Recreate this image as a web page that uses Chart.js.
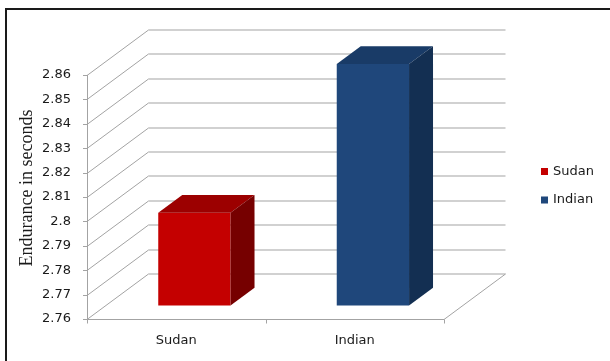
<!DOCTYPE html>
<html>
<head>
<meta charset="utf-8">
<script src="https://cdn.jsdelivr.net/npm/chart.js@4.4.1/dist/chart.umd.min.js"></script>
<style>
  html, body { margin: 0; padding: 0; background: #ffffff; }
  #wrap { position: relative; width: 610px; height: 361px; overflow: hidden; }
  #frame { position: absolute; left: 5px; top: 8px; width: 700px; height: 400px;
           border-top: 2px solid #1a1a1a; border-left: 2px solid #1a1a1a; pointer-events: none; }
  canvas { position: absolute; left: 0; top: 0; }
</style>
</head>
<body>
<div id="wrap">
  <canvas id="c" width="610" height="361"></canvas>
  <div id="frame"></div>
</div>
<script>
// ---- data ----
const categories = ['Sudan', 'Indian'];
const enduranceValues = [2.798, 2.859];
const yTickValues = [2.76, 2.77, 2.78, 2.79, 2.8, 2.81, 2.82, 2.83, 2.84, 2.85, 2.86];
const yAxisTitle = 'Endurance in seconds';

// ---- style ----
const frontColors = ['#c40000', '#1f477b'];
const topColors   = ['#9c0000', '#193b67'];
const sideColors  = ['#760000', '#132f52'];
const GRID = '#a3a3a3';
const TEXT = '#1a1a1a';
const DX = 61.5, DY = -45.5;      // full depth offset of the 3D floor
const F0 = 0.295, F1 = 0.685;     // bar front/back depth fractions

function line(ctx, x1, y1, x2, y2) {
  ctx.beginPath(); ctx.moveTo(x1, y1); ctx.lineTo(x2, y2); ctx.stroke();
}

const depthPlugin = {
  id: 'depth3d',
  beforeDatasetsDraw(chart) {
    const { ctx, chartArea: a, scales: { x, y } } = chart;
    ctx.save();
    ctx.strokeStyle = GRID;
    ctx.lineWidth = 1;
    y.ticks.forEach(t => {
      const py = Math.round(y.getPixelForValue(t.value)) + 0.5;
      line(ctx, a.left, py, a.left + DX, py + DY);
      line(ctx, a.left + DX, py + DY, a.right + DX, py + DY);
      line(ctx, a.left - 4, py, a.left, py);
    });
    const L = Math.round(a.left) + 0.5, B = Math.round(a.bottom) + 0.5;
    line(ctx, L, a.top, L, B);
    line(ctx, L, B, a.right, B);
    line(ctx, a.right, B, a.right + DX, B + DY);
    const n = x.ticks.length;
    for (let i = 0; i <= n; i++) {
      const px = Math.round(a.left + (a.right - a.left) * i / n) + 0.5;
      line(ctx, px, B, px, B + 4);
    }
    ctx.restore();
    ctx.save();
    ctx.translate(DX * F0, DY * F0);
  },
  afterDatasetsDraw(chart) {
    const { ctx } = chart;
    const bx = DX * (F1 - F0), by = DY * (F1 - F0);
    chart.getDatasetMeta(0).data.forEach((el, i) => {
      const p = el.getProps(['x', 'y', 'base', 'width'], true);
      const Lx = p.x - p.width / 2, Rx = p.x + p.width / 2, T = p.y, Bt = p.base;
      ctx.fillStyle = topColors[i];
      ctx.beginPath();
      ctx.moveTo(Lx, T); ctx.lineTo(Rx, T); ctx.lineTo(Rx + bx, T + by); ctx.lineTo(Lx + bx, T + by);
      ctx.closePath(); ctx.fill();
      ctx.fillStyle = sideColors[i];
      ctx.beginPath();
      ctx.moveTo(Rx, T); ctx.lineTo(Rx + bx, T + by); ctx.lineTo(Rx + bx, Bt + by); ctx.lineTo(Rx, Bt);
      ctx.closePath(); ctx.fill();
    });
    ctx.restore();
  },
  afterDraw(chart) {
    const { ctx } = chart;
    ctx.save();
    // legend
    ctx.font = '13px "DejaVu Sans"';
    ctx.textBaseline = 'middle';
    ctx.textAlign = 'left';
    categories.forEach((c, i) => {
      const cy = 171.5 + i * 28.5;
      ctx.fillStyle = frontColors[i];
      ctx.fillRect(541, cy - 3.5, 7, 7);
      ctx.fillStyle = TEXT;
      ctx.fillText(c, 553, cy);
    });
    // y axis title
    ctx.translate(27, 188);
    ctx.rotate(-Math.PI / 2);
    ctx.font = '18px "Liberation Serif"';
    ctx.textAlign = 'center';
    ctx.fillStyle = TEXT;
    ctx.fillText(yAxisTitle, 0, 0);
    ctx.restore();
  }
};

new Chart(document.getElementById('c'), {
  type: 'bar',
  data: {
    labels: categories,
    datasets: [{
      label: 'Endurance',
      data: enduranceValues,
      base: yTickValues[0],
      backgroundColor: frontColors,
      borderWidth: 0,
      categoryPercentage: 1,
      barPercentage: 0.405,
      clip: false
    }]
  },
  options: {
    responsive: false,
    animation: false,
    devicePixelRatio: 1,
    layout: { padding: { left: 17, right: 166, top: 75, bottom: 0 } },
    plugins: { legend: { display: false }, tooltip: { enabled: false } },
    scales: {
      x: {
        grid: { display: false, drawTicks: false },
        border: { display: false },
        ticks: { color: TEXT, font: { family: 'DejaVu Sans', size: 13 }, padding: 14, maxRotation: 0 },
        afterFit(s) { s.height = 42; }
      },
      y: {
        min: 2.76, max: 2.86,
        grid: { display: false, drawTicks: false },
        border: { display: false },
        afterBuildTicks(s) { s.ticks = yTickValues.map(v => ({ value: v })); },
        ticks: {
          color: TEXT, font: { family: 'DejaVu Sans', size: 13 }, padding: 16,
          callback: v => String(+Number(v).toFixed(2))
        },
        afterFit(s) { s.width = 70; }
      }
    }
  },
  plugins: [depthPlugin]
});
</script>
</body>
</html>
